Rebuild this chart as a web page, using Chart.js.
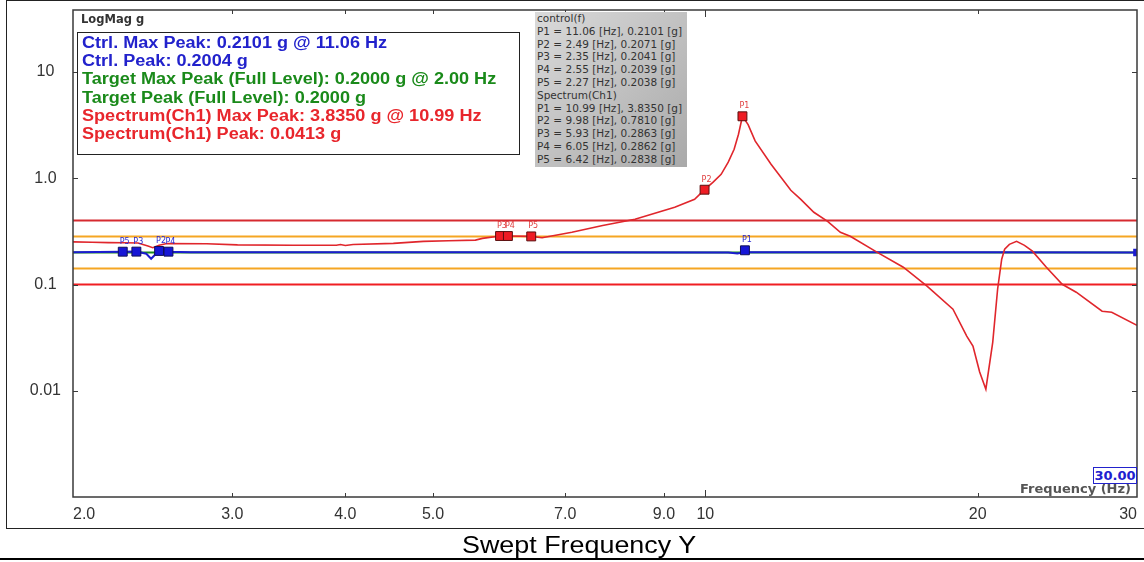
<!DOCTYPE html>
<html lang="en">
<head>
<meta charset="UTF-8">
<title>Swept Frequency Y</title>
<style>
    body { margin: 0; background: #fff; }
    #wrap { position: relative; width: 1144px; height: 562px; overflow: hidden; font-family: 'Liberation Sans', Arial, sans-serif; }
    #chart { position: absolute; left: 0; top: 0; }
    .frame { position: absolute; left: 6px; top: 0; width: 1160px; height: 529px; border: 1px solid #222; box-sizing: border-box; }
    .title { position: absolute; left: 462px; top: 531px; font-size: 24px; line-height: 28px; color: #000; white-space: nowrap;
             transform: scaleX(1.12); transform-origin: left center; }
    .rule { position: absolute; left: 0; top: 558px; width: 1144px; height: 2px; background: #000; }
    .logmag { position: absolute; left: 81px; top: 12px; font: bold 11.5px 'DejaVu Sans', sans-serif; color: #333; }
    .peaks { position: absolute; left: 77px; top: 32px; width: 443px; height: 123px; border: 1px solid #222; box-sizing: border-box; background: #fff; padding: 1px 0 0 4px; }
    .peaks div { font-weight: bold; font-size: 16px; line-height: 18.2px; white-space: nowrap; transform: scaleX(1.13); transform-origin: left center; }
    .blue { color: #2222cc; }
    .green { color: #1a8a1a; }
    .red { color: #e8262c; }
    .cursor { position: absolute; left: 535px; top: 12px; width: 152px; height: 155px; box-sizing: border-box; padding: 0 0 0 2px;
              background: linear-gradient(to bottom right, #dadada, #a9a9a9); font: 10.5px 'DejaVu Sans', sans-serif; color: #333; }
    .cursor div { line-height: 12.8px; white-space: nowrap; }
    .freq { position: absolute; right: 13px; top: 481px; font: bold 13px 'DejaVu Sans', sans-serif; color: #555; }
    .xval { position: absolute; left: 1093px; top: 467px; width: 44px; height: 17px; box-sizing: border-box; border: 1px solid #2222cc; background: #fff;
            font: bold 13px 'DejaVu Sans', sans-serif; line-height: 15px; color: #2020d0; text-align: center; }
</style>
</head>
<body>
<div id="wrap">
    <div class="frame"></div>
    <canvas id="chart" width="1144" height="562"></canvas>
    <div class="logmag">LogMag g</div>
    <div class="peaks">
        <div class="blue">Ctrl. Max Peak: 0.2101 g @ 11.06 Hz</div>
        <div class="blue">Ctrl. Peak: 0.2004 g</div>
        <div class="green">Target Max Peak (Full Level): 0.2000 g @ 2.00 Hz</div>
        <div class="green">Target Peak (Full Level): 0.2000 g</div>
        <div class="red">Spectrum(Ch1) Max Peak: 3.8350 g @ 10.99 Hz</div>
        <div class="red">Spectrum(Ch1) Peak: 0.0413 g</div>
    </div>
    <div class="cursor" id="cursor"></div>
    <div class="freq">Frequency (Hz)</div>
    <div class="xval">30.00</div>
    <div class="title">Swept Frequency Y</div>
    <div class="rule"></div>
</div>
<script src="https://cdn.jsdelivr.net/npm/chart.js@4/dist/chart.umd.min.js"></script>
<script>
// axis ticks
const xTickVals = [2, 3, 4, 5, 7, 9, 10, 20, 30];
const xTickText = ['2.0', '3.0', '4.0', '5.0', '7.0', '9.0', '10', '20', '30'];
const yTickVals = [0.01, 0.1, 1, 10];
const yTickText = ['0.01', '0.1', '1.0', '10'];
const xMin = 2, xMax = 30;
const yMin = 0.001, yMax = 38.4;

// spectrum (Ch1), g
const specFreq = [2.0, 2.1, 2.19, 2.28, 2.36, 2.42, 2.45, 2.49, 2.54, 2.81, 3.04, 3.5, 3.91, 3.95, 4.0, 4.08, 4.52, 4.88, 5.2, 5.57,
    5.67, 5.93, 6.05, 6.42, 6.6, 7.12, 7.7, 8.36, 9.25, 9.73, 9.98, 10.2, 10.41, 10.6, 10.76, 10.88, 10.99, 11.15, 11.35, 11.82,
    12.43, 12.75, 13.18, 13.65, 14.1, 14.46, 15.49, 16.55, 17.58, 18.78, 19.45, 19.76, 20.1, 20.42, 20.78, 21.04, 21.26, 21.42, 21.68, 22.08,
    22.53, 22.99, 23.82, 24.8, 25.7, 27.45, 28.13, 30];
const specVal = [0.252, 0.250, 0.248, 0.247, 0.246, 0.230, 0.222, 0.234, 0.243, 0.242, 0.236, 0.234, 0.234, 0.238, 0.233, 0.238, 0.244, 0.255, 0.258, 0.262,
    0.272, 0.2863, 0.2862, 0.2838, 0.276, 0.31, 0.36, 0.411, 0.533, 0.634, 0.781, 0.92, 1.09, 1.42, 1.875, 2.6, 3.835, 3.2, 2.25, 1.354,
    0.771, 0.634, 0.479, 0.394, 0.31, 0.285, 0.201, 0.1455, 0.0965, 0.0586, 0.0327, 0.0263, 0.015, 0.01035, 0.0286, 0.0903, 0.173, 0.215, 0.239, 0.255,
    0.234, 0.206, 0.1455, 0.1006, 0.0847, 0.0561, 0.0548, 0.0413];

// control (f), g
const ctrlFreq = [2.0, 2.27, 2.35, 2.41, 2.44, 2.47, 2.49, 2.55, 2.7, 4.0, 7.0, 10.6, 10.85, 10.95, 11.06, 11.15, 15, 20, 30];
const ctrlVal = [0.201, 0.2038, 0.2041, 0.195, 0.175, 0.195, 0.2071, 0.2039, 0.201, 0.201, 0.201, 0.200, 0.196, 0.199, 0.2101, 0.201, 0.201, 0.201, 0.2004];

// reference levels
const limitFreq = [2, 30];
const targetLevel = 0.2;
const alarmHigh = 0.2828, alarmLow = 0.1414;
const abortHigh = 0.4, abortLow = 0.1;

// peak markers
const peakNames = ['P1', 'P2', 'P3', 'P4', 'P5'];
const ctrlPeakFreq = [11.06, 2.49, 2.35, 2.55, 2.27];
const ctrlPeakVal = [0.2101, 0.2071, 0.2041, 0.2039, 0.2038];
const specPeakFreq = [10.99, 9.98, 5.93, 6.05, 6.42];
const specPeakVal = [3.835, 0.781, 0.2863, 0.2862, 0.2838];

const cursorBox = document.getElementById('cursor');
const cursorLines = ['control(f)']
    .concat(peakNames.map((p, i) => `${p} = ${ctrlPeakFreq[i].toFixed(2)} [Hz], ${ctrlPeakVal[i].toFixed(4)} [g]`))
    .concat(['Spectrum(Ch1)'])
    .concat(peakNames.map((p, i) => `${p} = ${specPeakFreq[i].toFixed(2)} [Hz], ${specPeakVal[i].toFixed(4)} [g]`));
cursorLines.forEach(t => {
    const d = document.createElement('div');
    d.textContent = t;
    cursorBox.appendChild(d);
});

const pts = (xs, ys) => xs.map((x, i) => ({x: x, y: ys[i]}));
const flat = v => limitFreq.map(x => ({x: x, y: v}));
const level = (data, color) => ({data: data, showLine: true, borderColor: color, borderWidth: 2, pointRadius: 0});

const frameAndTicks = {
    id: 'frameAndTicks',
    afterDraw(chart) {
        const {ctx, chartArea: a, scales: {x, y}} = chart;
        ctx.save();
        ctx.strokeStyle = '#3a3a3a';
        ctx.lineWidth = 1.5;
        ctx.strokeRect(a.left, a.top, a.right - a.left, a.bottom - a.top);
        ctx.lineWidth = 1;
        ctx.beginPath();
        xTickVals.slice(1, -1).forEach(v => {
            const px = Math.round(x.getPixelForValue(v)) + 0.5;
            const len = v === 10 ? 7 : 4;
            ctx.moveTo(px, a.bottom); ctx.lineTo(px, a.bottom - len);
            ctx.moveTo(px, a.top); ctx.lineTo(px, a.top + len);
        });
        yTickVals.forEach(v => {
            const py = Math.round(y.getPixelForValue(v)) + 0.5;
            ctx.moveTo(a.left, py); ctx.lineTo(a.left + 5, py);
            ctx.moveTo(a.right, py); ctx.lineTo(a.right - 5, py);
        });
        ctx.stroke();
        ctx.restore();
    }
};

const peakLabels = {
    id: 'peakLabels',
    afterDatasetsDraw(chart) {
        const ctx = chart.ctx;
        ctx.save();
        ctx.font = '8px "DejaVu Sans"';
        ctx.textBaseline = 'bottom';
        chart.data.datasets.forEach((ds, i) => {
            if (!ds.peakNames) return;
            ctx.fillStyle = ds.labelColor;
            chart.getDatasetMeta(i).data.forEach((pt, j) => ctx.fillText(ds.peakNames[j], pt.x - 3, pt.y - 6));
        });
        ctx.restore();
    }
};

new Chart(document.getElementById('chart'), {
    type: 'scatter',
    data: {
        datasets: [
            {data: pts(ctrlPeakFreq, ctrlPeakVal), pointStyle: 'rect', pointRadius: 6.3, backgroundColor: '#1616d6',
             borderColor: '#10105a', borderWidth: 1, peakNames: peakNames, labelColor: '#2a2ad0'},
            {data: pts(specPeakFreq, specPeakVal), pointStyle: 'rect', pointRadius: 6.3, backgroundColor: '#ee1c24',
             borderColor: '#5a1010', borderWidth: 1, peakNames: peakNames, labelColor: '#e04040'},
            {data: pts(specFreq, specVal), showLine: true, borderColor: '#e0262c', borderWidth: 1.6, pointRadius: 0},
            {data: pts(ctrlFreq, ctrlVal), showLine: true, borderColor: '#1c1cd0', borderWidth: 2,
             pointStyle: 'rect', backgroundColor: '#1c1cd0',
             pointRadius: c => c.dataIndex === ctrlFreq.length - 1 ? 4 : 0},
            level(flat(targetLevel), '#1c8c1c'),
            level(flat(alarmHigh), '#f5a623'),
            level(flat(alarmLow), '#f5a623'),
            level(flat(abortHigh), '#d62a30'),
            level(flat(abortLow), '#f01e22')
        ]
    },
    options: {
        responsive: false,
        animation: false,
        layout: {autoPadding: false, padding: {left: 6, top: 10, right: 7, bottom: 35}},
        plugins: {legend: {display: false}, tooltip: {enabled: false}},
        scales: {
            x: {
                type: 'logarithmic', min: xMin, max: xMax, bounds: 'data',
                grid: {display: false, drawTicks: false},
                border: {display: false},
                afterBuildTicks: s => { s.ticks = xTickVals.map(v => ({value: v})); s.min = xMin; s.max = xMax; },
                afterFit: s => { s.height = 30; s.paddingLeft = 0; s.paddingRight = 0; },
                ticks: {autoSkip: false, maxRotation: 0, align: 'inner', padding: 8, color: '#333',
                        font: {family: "'Liberation Sans', Arial", size: 16},
                        callback: (v, i) => xTickText[i]}
            },
            y: {
                type: 'logarithmic', min: yMin, max: yMax, bounds: 'data',
                grid: {display: false, drawTicks: false},
                border: {display: false},
                afterBuildTicks: s => { s.ticks = yTickVals.map(v => ({value: v})); s.min = yMin; s.max = yMax; },
                afterFit: s => { s.width = 67; s.paddingTop = 0; s.paddingBottom = 0; },
                ticks: {crossAlign: 'center', padding: 12, color: '#333',
                        font: {family: "'Liberation Sans', Arial", size: 16},
                        callback: (v, i) => yTickText[i]}
            }
        }
    },
    plugins: [frameAndTicks, peakLabels]
});
</script>
</body>
</html>
